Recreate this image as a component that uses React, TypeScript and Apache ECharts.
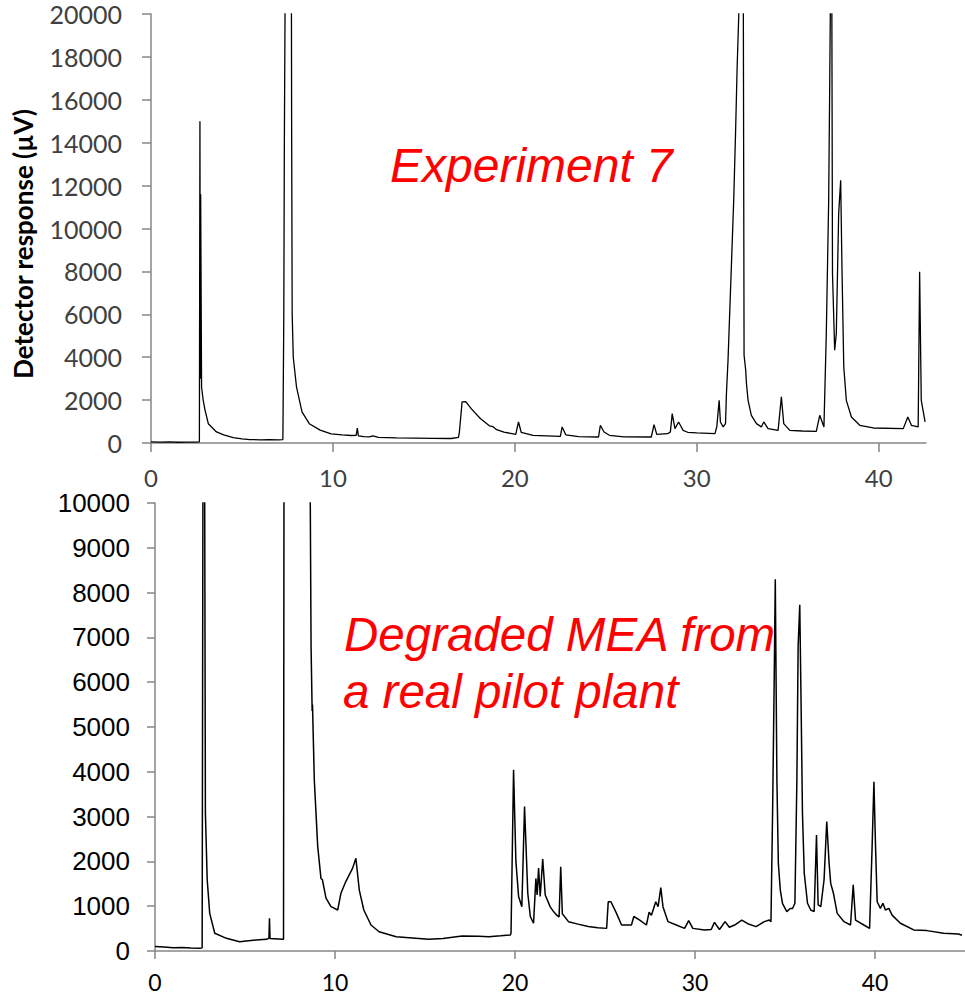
import React, { useEffect, useRef } from "react";
import * as echarts from "echarts";

// Top chromatogram: Experiment 7 (retention time in min, detector response in µV)
const expTime = [
  0, 0.5, 1.0, 1.5, 2.0, 2.5, 2.66, 2.69, 2.71, 2.73, 2.78, 2.87, 2.97, 3.15, 3.6, 4.0, 4.52, 5.0, 5.44, 6.0, 6.5, 7.0,
  7.25, 7.3, 7.33, 7.38, 7.5, 7.62, 7.7, 7.73, 7.76, 7.82, 8.0, 8.3, 8.7, 9.3, 9.9, 10.5, 11.0, 11.28, 11.34, 11.4,
  11.7, 12.0, 12.2, 12.5, 13.5, 14.5, 15.5, 16.5, 16.9, 16.95, 17.1, 17.3, 17.6, 18.1, 18.6, 18.8, 19.0, 19.4, 20.05,
  20.2, 20.35, 21.0, 22.5, 22.6, 22.8, 23.5, 24.6, 24.7, 24.9, 25.2, 26.0, 27.5, 27.65, 27.8, 28.4, 28.55, 28.65, 28.8,
  29.0, 29.25, 29.5, 30.0, 31.0, 31.1, 31.23, 31.3, 31.45, 31.58, 31.63, 31.72, 31.77, 31.9, 32.03, 32.13, 32.22,
  32.31, 32.42, 32.55, 32.6, 32.69, 32.73, 32.82, 33.0, 33.28, 33.55, 33.68, 33.92, 34.47, 34.65, 34.78, 35.11, 35.8,
  36.57, 36.76, 36.99, 37.12, 37.25, 37.3, 37.36, 37.42, 37.46, 37.58, 37.67, 37.8, 37.91, 37.98, 38.08, 38.22, 38.5,
  38.96, 39.7, 41.35, 41.6, 41.8, 42.17, 42.25, 42.34, 42.55,
];
const expSignal = [
  50, 40, 55, 35, 45, 40, 50, 15000, 3000, 11600, 2600, 1990, 1530, 900, 515, 380, 250, 190, 160, 150, 155, 150,
  160, 6000, 14000, 22000, 30000, 30000, 30000, 15000, 6050, 4000, 2600, 1450, 900, 600, 430, 380, 350, 360, 700, 330,
  300, 290, 330, 260, 240, 230, 220, 210, 260, 500, 1915, 1930, 1600, 1140, 800, 760, 620, 510, 400,
  980, 500, 360, 310, 750, 380, 300, 280, 825, 515, 360, 290, 280, 860, 400, 435, 520, 1370, 670,
  980, 590, 500, 470, 435, 750, 1990, 980, 750, 900, 2300, 3900, 5100, 8200, 11300, 14400, 17550,
  20000, 24000, 24000, 4090, 3390, 2780, 1990, 1290, 905, 750, 980, 670, 590, 2150, 905, 590, 560,
  545, 1290, 750, 5100, 11300, 16000, 22000, 22000, 7900, 4330, 5100, 10700, 12250, 8200, 3550, 1990, 1210,
  825, 700, 670, 1210, 825, 750, 7980, 1990, 980,
];

// Bottom chromatogram: degraded MEA from a real pilot plant
const meaTime = [
  0, 0.5, 1.0, 1.5, 2.0, 2.5, 2.62, 2.67, 2.75, 2.8, 2.9, 3.04, 3.32, 3.97, 4.7, 5.2, 5.63, 6.18, 6.33, 6.36, 6.39,
  7.1, 7.14, 7.17, 8.6, 8.62, 8.67, 8.73, 8.75, 8.85, 9.04, 9.22, 9.3, 9.5, 9.78, 10.15, 10.33, 10.6, 10.98, 11.16,
  11.35, 11.6, 12.0, 12.45, 13.4, 14.3, 15.2, 16.0, 17.06, 18.0, 18.54, 19.2, 19.74, 19.78, 19.92, 20.05, 20.2,
  20.38, 20.53, 20.71, 20.85, 21.03, 21.16, 21.23, 21.31, 21.4, 21.54, 21.68, 21.95, 22.14, 22.32, 22.45, 22.54,
  22.63, 22.97, 23.5, 24.07, 24.6, 25.09, 25.18, 25.33, 25.64, 25.92, 26.47, 26.6, 26.93, 27.3, 27.45, 27.58, 27.82,
  27.95, 28.1, 28.22, 28.5, 28.96, 29.42, 29.65, 29.88, 30.53, 30.9, 31.08, 31.36, 31.67, 31.91, 32.2, 32.6, 32.93,
  33.39, 33.85, 34.13, 34.22, 34.31, 34.4, 34.46, 34.55, 34.63, 34.74, 34.86, 35.1, 35.29, 35.42, 35.55, 35.66,
  35.73, 35.82, 35.9, 35.97, 36.07, 36.25, 36.43, 36.62, 36.75, 36.84, 36.99, 37.17, 37.32, 37.45, 37.54, 37.69,
  37.9, 38.28, 38.64, 38.79, 38.92, 39.38, 39.7, 39.84, 39.94, 40.03, 40.12, 40.3, 40.44, 40.58, 40.77, 40.95,
  41.41, 42.15, 42.89, 43.81, 44.64, 44.83,
];
const meaSignal = [
  100, 90, 70, 80, 65, 60, 70, 12000, 12000, 3080, 1590, 840, 395, 283, 208, 230, 245, 260, 283, 730, 280,
  260, 260, 12000, 12000, 10500, 6800, 5360, 5500, 3820, 2330, 1620, 1590, 1180, 990, 915, 1290, 1550, 1850, 2070,
  1360, 915, 580, 430, 320, 290, 260, 280, 335, 330, 320, 340, 357, 400, 4045, 2000, 1215,
  990, 3225, 1290, 770, 620, 1620, 1250, 1850, 1215, 2050, 1250, 990, 880, 800, 760, 1880,
  830, 655, 600, 545, 520, 505, 1100, 1100, 840, 580, 580, 770, 690, 580, 865, 800, 1100,
  990, 1415, 990, 655, 580, 505, 680, 505, 470, 480, 640, 480, 655, 530, 580, 690, 610,
  545, 655, 690, 655, 3075, 6050, 8300, 3820, 1960, 1360, 1065, 880, 950, 950, 1065, 3820,
  6800, 7730, 5310, 3075, 1735, 1065, 915, 880, 2590, 1030, 990, 1590, 2890, 1960, 1510, 1290,
  840, 655, 580, 1475, 690, 580, 505, 2330, 3780, 2330, 1100, 950, 1065, 915, 950, 800,
  620, 470, 455, 395, 380, 350,
];

const topXTicks = [0, 10, 20, 30, 40];
const bottomXTicks = [0, 10, 20, 30, 40];

const AXIS_GREY = "#868686";

const plain = (v: number) => String(v);

export default function App() {
  const ref = useRef<HTMLDivElement>(null);

  useEffect(() => {
    if (!ref.current) return;
    const chart = echarts.init(ref.current, undefined, { renderer: "svg" });
    const topData = expTime.map((t, i) => [t, expSignal[i]]);
    const bottomData = meaTime.map((t, i) => [t, meaSignal[i]]);

    const axisLine = { show: true, lineStyle: { color: AXIS_GREY, width: 1.5 } };
    const axisTickBase = { show: true, inside: false, lineStyle: { color: AXIS_GREY, width: 1.5 } };

    chart.setOption({
      animation: false,
      backgroundColor: "#ffffff",
      grid: [
        { left: 151, top: 14, width: 775, height: 429 },
        { left: 155, top: 503, width: 813, height: 448 },
      ],
      xAxis: [
        {
          gridIndex: 0,
          type: "value",
          min: 0,
          max: 42.6,
          interval: 10,
          axisLine,
          axisTick: { ...axisTickBase, length: 9, customValues: topXTicks },
          axisLabel: {
            customValues: topXTicks,
            formatter: plain,
            margin: 22,
            fontFamily: "Lato",
            fontSize: 24,
            color: "#404040",
          },
          splitLine: { show: false },
        },
        {
          gridIndex: 1,
          type: "value",
          min: 0,
          max: 45,
          interval: 10,
          axisLine,
          axisTick: { ...axisTickBase, length: 8, customValues: bottomXTicks },
          axisLabel: {
            customValues: bottomXTicks,
            formatter: plain,
            margin: 19,
            fontFamily: "Lato",
            fontSize: 23,
            color: "#000000",
          },
          splitLine: { show: false },
        },
      ],
      yAxis: [
        {
          gridIndex: 0,
          type: "value",
          min: 0,
          max: 20000,
          interval: 2000,
          axisLine,
          axisTick: { ...axisTickBase, length: 9 },
          axisLabel: { formatter: plain, margin: 29, fontFamily: "Lato", fontSize: 25, color: "#404040" },
          splitLine: { show: false },
        },
        {
          gridIndex: 1,
          type: "value",
          min: 0,
          max: 10000,
          interval: 1000,
          axisLine,
          axisTick: { ...axisTickBase, length: 8 },
          axisLabel: {
            formatter: plain,
            margin: 25,
            fontFamily: "Liberation Sans",
            fontSize: 26,
            color: "#000000",
          },
          splitLine: { show: false },
        },
      ],
      series: [
        {
          type: "line",
          name: "Experiment 7",
          xAxisIndex: 0,
          yAxisIndex: 0,
          data: topData,
          showSymbol: false,
          clip: true,
          lineStyle: { color: "#000000", width: 1.3 },
        },
        {
          type: "line",
          name: "Degraded MEA",
          xAxisIndex: 1,
          yAxisIndex: 1,
          data: bottomData,
          showSymbol: false,
          clip: true,
          lineStyle: { color: "#000000", width: 1.5 },
        },
      ],
      graphic: [
        {
          type: "text",
          x: 23,
          y: 244,
          rotation: Math.PI / 2,
          style: {
            text: "Detector response (µV)",
            font: 'bold 26px "Lato"',
            fill: "#000000",
            align: "center",
            verticalAlign: "middle",
          },
        },
        {
          type: "text",
          x: 390,
          y: 165,
          style: {
            text: "Experiment 7",
            font: 'italic 48px "Liberation Sans"',
            fill: "#ff0000",
            align: "left",
            verticalAlign: "middle",
          },
        },
        {
          type: "text",
          x: 344,
          y: 634,
          style: {
            text: "Degraded MEA from",
            font: 'italic 47.5px "Liberation Sans"',
            fill: "#ff0000",
            align: "left",
            verticalAlign: "middle",
          },
        },
        {
          type: "text",
          x: 343,
          y: 691,
          style: {
            text: "a real pilot plant",
            font: 'italic 47.5px "Liberation Sans"',
            fill: "#ff0000",
            align: "left",
            verticalAlign: "middle",
          },
        },
      ],
    });

    return () => chart.dispose();
  }, []);

  return (
    <div
      ref={ref}
      style={{ position: "fixed", left: 0, top: 0, width: 965, height: 995 }}
    />
  );
}
